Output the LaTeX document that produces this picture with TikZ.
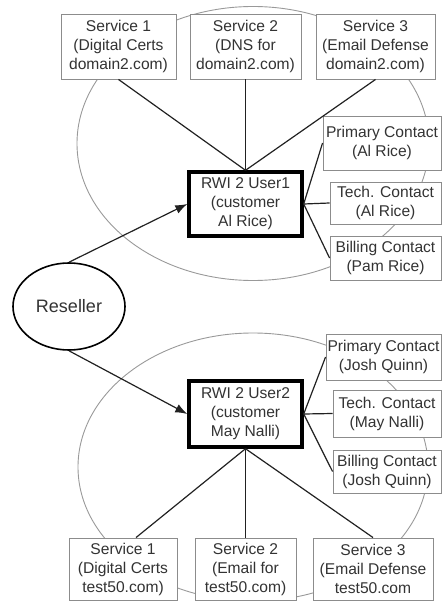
\documentclass[tikz,border=0pt]{standalone}
\usepackage{fontspec}
\setmainfont{Liberation Sans}
\usetikzlibrary{arrows.meta,shapes.geometric}
\definecolor{txt}{gray}{0.2}
\definecolor{frame}{gray}{0.55}
\definecolor{ring}{gray}{0.6}
\definecolor{wire}{gray}{0.13}
\begin{document}
\begin{tikzpicture}[x=1pt,y=-1pt,
  every node/.style={font=\fontsize{15.6}{19}\selectfont, text=txt, align=center, inner sep=0pt},
  infobox/.style={draw=frame, line width=0.9pt, fill=white, minimum height=#1},
  infobox/.default=65pt,
  userbox/.style={draw=black, line width=3.4pt, fill=white, minimum width=113pt},
  wirelink/.style={draw=wire, line width=1.2pt},
  arrowlink/.style={draw=wire, line width=1.2pt, -{Latex[length=12pt,width=9pt]}},
  group/.style={draw=ring, line width=0.9pt}]
\useasboundingbox (0,0) rectangle (444,601);

% account groupings
\draw[group] (253,143.5) ellipse [x radius=176pt, y radius=137pt];
\draw[group] (253,467) ellipse [x radius=175pt, y radius=134pt];

% customer 1
\node[userbox, minimum height=64pt] (u1) at (245.5,204) {RWI 2 User1\\(customer\\Al Rice)};
\node[infobox, minimum width=115pt] (s1) at (118.5,46.5) {Service 1\\(Digital Certs\\domain2.com)};
\node[infobox, minimum width=111pt] (s2) at (245.5,46.5) {Service 2\\(DNS for\\domain2.com)};
\node[infobox, minimum width=119pt] (s3) at (375.5,46.5) {Service 3\\(Email Defense\\domain2.com)};
\node[infobox=54pt, minimum width=118pt] (p1) at (382,143) {Primary Contact\\(Al Rice)};
\node[infobox=42pt, minimum width=111pt] (t1) at (385.5,203) {Tech. Contact\\(Al Rice)};
\node[infobox=44pt, minimum width=111pt] (b1) at (385.5,258) {Billing Contact\\(Pam Rice)};

% customer 2
\node[userbox, minimum height=66pt] (u2) at (245.5,414) {RWI 2 User2\\(customer\\May Nalli)};
\node[infobox=46pt, minimum width=115pt] (p2) at (383.5,357) {Primary Contact\\(Josh Quinn)};
\node[infobox=47pt, minimum width=108pt] (t2) at (387,413.5) {Tech. Contact\\(May Nalli)};
\node[infobox=43pt, minimum width=108pt] (b2) at (387,471.5) {Billing Contact\\(Josh Quinn)};
\node[infobox=62pt, minimum width=108pt] (q1) at (123,569) {Service 1\\(Digital Certs\\test50.com)};
\node[infobox=62pt, minimum width=101pt] (q2) at (245.5,569) {Service 2\\(Email for\\test50.com)};
\node[infobox=62pt, minimum width=120pt] (q3) at (373,569) {Service 3\\(Email Defense\\test50.com};

% reseller
\node[draw=black, line width=1.6pt, ellipse, minimum width=112pt, minimum height=87pt, fill=white,
      font=\fontsize{18}{22}\selectfont] (res) at (69,306.5) {Reseller};

% links
\path[wirelink] (u1.north) -- (s1.south);
\path[wirelink] (u1.north) -- (s2.south);
\path[wirelink] (u1.north) -- (s3.south);
\path[wirelink] (u1.east) -- (p1.west);
\path[wirelink] (u1.east) -- (t1.west);
\path[wirelink] (u1.east) -- (b1.west);
\path[wirelink] (u2.south) -- ([xshift=13pt]q1.north);
\path[wirelink] (u2.south) -- (q2.north);
\path[wirelink] (u2.south) -- (q3.north);
\path[wirelink] (u2.east) -- (p2.west);
\path[wirelink] (u2.east) -- (t2.west);
\path[wirelink] (u2.east) -- (b2.west);
\path[arrowlink] (res.north) -- (u1.west);
\path[arrowlink] (res.south) -- (u2.west);
\end{tikzpicture}
\end{document}
